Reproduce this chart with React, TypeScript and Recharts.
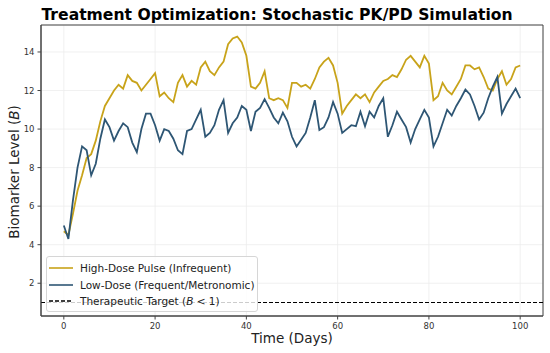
import React from 'react'
import { CartesianGrid, Line, LineChart, ReferenceArea, ReferenceLine, XAxis, YAxis } from 'recharts'

const DAYS = Array.from({ length: 101 }, (_, i) => i)

const HIGH_DOSE = [
  4.7, 4.5, 5.6, 6.8, 7.6, 8.5, 8.7, 9.4, 10.4, 11.2,
  11.6, 12.0, 12.3, 12.1, 12.8, 12.5, 12.4, 12.0, 12.3, 12.6,
  12.9, 11.7, 11.9, 11.6, 11.4, 12.4, 12.8, 12.2, 12.5, 12.3,
  13.2, 13.5, 13.0, 12.8, 13.2, 13.5, 14.4, 14.7, 14.8, 14.5,
  13.8, 12.2, 12.1, 12.4, 13.0, 11.6, 11.5, 11.6, 11.5, 11.1,
  12.4, 12.4, 12.2, 12.3, 12.1, 12.6, 13.2, 13.5, 13.7, 13.3,
  12.4, 10.8, 11.2, 11.5, 11.8, 11.6, 11.8, 11.4, 11.9, 12.2,
  12.5, 12.6, 12.8, 12.7, 13.1, 13.6, 13.8, 13.5, 13.2, 13.8,
  13.4, 11.5, 11.7, 12.4, 12.0, 11.8, 12.2, 12.6, 13.3, 13.3,
  13.1, 13.2, 12.7, 12.1, 12.0, 12.6, 13.0, 12.3, 12.6, 13.2,
  13.3,
]

const LOW_DOSE = [
  5.0, 4.3, 6.3, 8.0, 9.1, 8.9, 7.6, 8.2, 9.5, 10.5,
  10.1, 9.4, 9.9, 10.3, 10.1, 9.3, 8.8, 10.0, 10.8, 10.8,
  10.2, 9.4, 10.0, 9.9, 9.5, 8.9, 8.7, 9.9, 10.0, 10.5,
  11.0, 9.6, 9.8, 10.2, 11.0, 11.5, 9.8, 10.3, 10.6, 11.2,
  11.0, 9.9, 10.9, 11.1, 11.55, 11.1, 10.6, 10.3, 10.85, 10.4,
  9.6, 9.1, 9.45, 9.8, 10.6, 11.5, 9.95, 10.1, 10.6, 11.4,
  10.8, 9.8, 10.0, 10.2, 10.15, 10.9, 10.15, 10.9, 10.6, 11.2,
  11.6, 9.6, 10.2, 10.9, 10.5, 10.1, 9.3, 10.0, 10.5, 11.0,
  10.6, 9.1, 9.6, 10.3, 11.0, 10.7, 11.2, 11.6, 12.05, 11.8,
  11.2, 10.5, 10.85, 11.6, 12.2, 12.7, 10.8, 11.3, 11.7, 12.1,
  11.6,
]

const X_TICKS = [0, 20, 40, 60, 80, 100]
const Y_TICKS = [2, 4, 6, 8, 10, 12, 14]
const X_DOMAIN = [-5, 105]
const Y_DOMAIN = [0.3, 15.4]
const TARGET = 1

const GOLD = '#c8a31a'
const BLUE = '#2e5674'
const FONT = '"DejaVu Sans", sans-serif'

const data = DAYS.map((d, i) => ({ day: d, high: HIGH_DOSE[i], low: LOW_DOSE[i] }))

const tick = { fill: '#333', fontSize: 8.5, fontFamily: FONT }

function LegendBox() {
  const rows = [
    { color: GOLD, dash: undefined },
    { color: BLUE, dash: undefined },
    { color: '#000', dash: '4 2' },
  ]
  const labels = [
    'High-Dose Pulse (Infrequent)',
    'Low-Dose (Frequent/Metronomic)',
    <>Therapeutic Target (<i>B</i> &lt; 1)</>,
  ]
  return (
    <div
      style={{
        position: 'absolute',
        left: 46,
        top: 256,
        width: 212,
        height: 56,
        background: 'rgba(255,255,255,0.8)',
        border: '1px solid #d6d6d6',
        borderRadius: 3,
        fontFamily: FONT,
        fontSize: 10.5,
        color: '#222',
        boxSizing: 'border-box',
        padding: '3px 0 0 2px',
      }}
    >
      {rows.map((r, i) => (
        <div key={i} style={{ display: 'flex', alignItems: 'center', height: 16.5 }}>
          <svg width={24} height={10} style={{ marginRight: 7 }}>
            <line x1={0} y1={5} x2={24} y2={5} stroke={r.color} strokeWidth={1.6} strokeDasharray={r.dash} />
          </svg>
          <span style={{ whiteSpace: 'nowrap' }}>{labels[i]}</span>
        </div>
      ))}
    </div>
  )
}

export default function App() {
  return (
    <div style={{ position: 'absolute', left: 0, top: 0, width: 550, height: 353, background: '#fff' }}>
      <LineChart
        width={550}
        height={353}
        data={data}
        margin={{ top: 25, right: 7, bottom: 0, left: 0 }}
      >
        <CartesianGrid stroke="#ececec" strokeWidth={0.8} />
        <XAxis
          dataKey="day"
          type="number"
          domain={X_DOMAIN}
          ticks={X_TICKS}
          height={37}
          tick={tick}
          tickSize={3.5}
          tickMargin={3}
          stroke="#444"
          allowDataOverflow
        />
        <YAxis
          type="number"
          domain={Y_DOMAIN}
          ticks={Y_TICKS}
          width={41}
          tick={tick}
          tickSize={3.5}
          tickMargin={3}
          stroke="#444"
          allowDataOverflow
        />
        <ReferenceArea
          x1={X_DOMAIN[0]}
          x2={X_DOMAIN[1]}
          y1={Y_DOMAIN[0]}
          y2={Y_DOMAIN[1]}
          fill="none"
          fillOpacity={0}
          stroke="#444"
          strokeWidth={1}
        />
        <ReferenceLine y={TARGET} stroke="#000" strokeWidth={1.2} strokeDasharray="4 2" />
        <Line dataKey="high" stroke={GOLD} strokeWidth={1.8} dot={false} isAnimationActive={false} />
        <Line dataKey="low" stroke={BLUE} strokeWidth={1.8} dot={false} isAnimationActive={false} />
        <text x={277} y={20} textAnchor="middle" fontFamily={FONT} fontWeight="bold" fontSize={15.6} fill="#000">
          Treatment Optimization: Stochastic PK/PD Simulation
        </text>
        <text x={292} y={343} textAnchor="middle" fontFamily={FONT} fontSize={13.5} fill="#222">
          Time (Days)
        </text>
        <text
          x={0}
          y={0}
          transform="translate(19,172) rotate(-90)"
          textAnchor="middle"
          fontFamily={FONT}
          fontSize={13.5}
          fill="#222"
        >
          Biomarker Level (<tspan fontStyle="italic">B</tspan>)
        </text>
      </LineChart>
      <LegendBox />
    </div>
  )
}
